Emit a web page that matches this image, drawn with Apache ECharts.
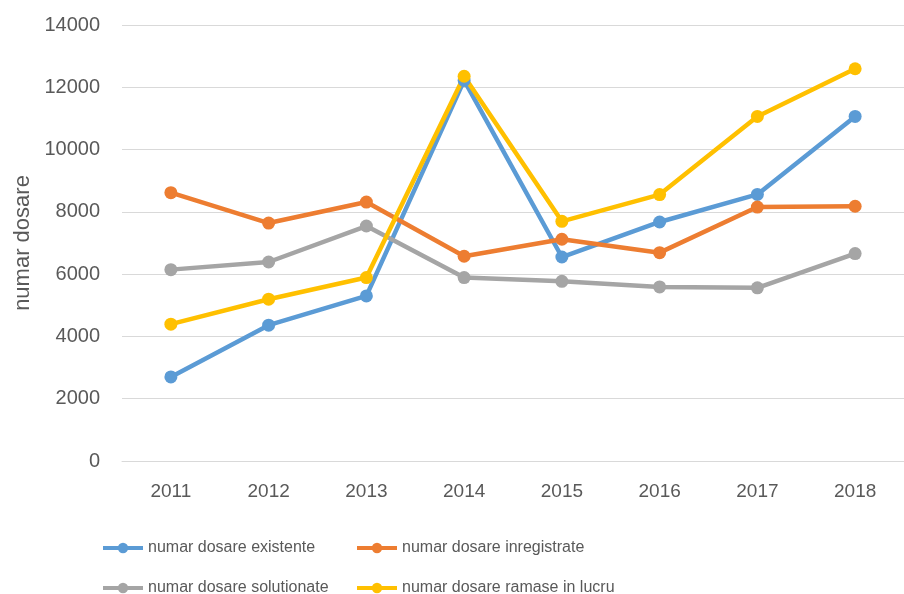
<!DOCTYPE html>
<html>
<head>
<meta charset="utf-8">
<script src="https://cdn.jsdelivr.net/npm/echarts@6/dist/echarts.min.js"></script>
<style>
  html, body { margin: 0; padding: 0; background: #ffffff; }
  #chart { width: 904px; height: 594px; }
</style>
</head>
<body>
<div id="chart"></div>
<script>
// Years on the category axis
const years = ['2011', '2012', '2013', '2014', '2015', '2016', '2017', '2018'];

// Case counts per year
const existente     = [2700, 4360, 5300, 12220, 6550, 7675, 8560, 11065];
const inregistrate  = [8615, 7640, 8315, 6575, 7120, 6690, 8155, 8180];
const solutionate   = [6145, 6390, 7545, 5890, 5770, 5590, 5560, 6660];
const ramase        = [4395, 5195, 5890, 12355, 7695, 8555, 11065, 12595];

// Series names shown in the legend
const seriesNames = [
  'numar dosare existente',
  'numar dosare inregistrate',
  'numar dosare solutionate',
  'numar dosare ramase in lucru'
];

const colors = ['#5B9BD5', '#ED7D31', '#A5A5A5', '#FFC000'];
const font = 'Liberation Sans, Arial, sans-serif';
const textColor = '#595959';

const chart = echarts.init(document.getElementById('chart'), null, { renderer: 'canvas' });

function lineSeries(name, data, color) {
  return {
    name: name,
    type: 'line',
    data: data,
    symbol: 'circle',
    symbolSize: 13,
    lineStyle: { width: 4.5, color: color },
    itemStyle: { color: color },
    emphasis: { disabled: true },
    animation: false
  };
}

function legendAt(name, left, top) {
  return {
    data: [name],
    left: left,
    top: top,
    itemWidth: 40,
    itemHeight: 13,
    itemGap: 0,
    lineStyle: { width: 4 },
    textStyle: { fontFamily: font, fontSize: 16, color: textColor },
    selectedMode: false
  };
}

chart.setOption({
  color: colors,
  grid: { left: 122, top: 25, width: 789, height: 436 },
  legend: [
    legendAt(seriesNames[0], 96, 535),
    legendAt(seriesNames[1], 350, 535),
    legendAt(seriesNames[2], 96, 575),
    legendAt(seriesNames[3], 350, 575)
  ],
  xAxis: {
    type: 'category',
    data: years,
    boundaryGap: true,
    axisLine: { lineStyle: { color: '#D9D9D9', width: 1 } },
    axisTick: { show: false },
    axisLabel: { fontFamily: font, fontSize: 19, color: textColor, margin: 21 }
  },
  yAxis: {
    type: 'value',
    min: 0,
    max: 14000,
    interval: 2000,
    name: 'numar dosare',
    nameLocation: 'middle',
    nameGap: 88,
    nameTextStyle: { fontFamily: font, fontSize: 22, color: textColor },
    axisLine: { show: false },
    axisTick: { show: false },
    splitLine: { lineStyle: { color: '#D9D9D9', width: 1 } },
    axisLabel: {
      fontFamily: font, fontSize: 20, color: textColor, margin: 22,
      formatter: function (v) { return String(v); }
    }
  },
  series: [
    lineSeries(seriesNames[0], existente, colors[0]),
    lineSeries(seriesNames[1], inregistrate, colors[1]),
    lineSeries(seriesNames[2], solutionate, colors[2]),
    lineSeries(seriesNames[3], ramase, colors[3])
  ]
});
</script>
</body>
</html>
